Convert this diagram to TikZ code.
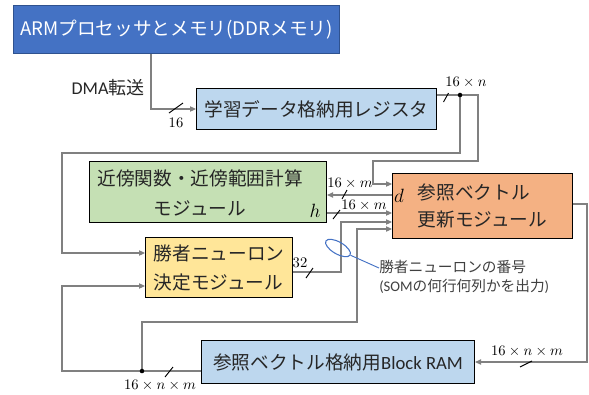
\documentclass[tikz,border=0pt]{standalone}
\usepackage{fontspec}
\setmainfont{Carlito}
\newfontfamily\jp{Noto Sans CJK JP}
\usetikzlibrary{arrows.meta,shapes.geometric}

\definecolor{armblue}{HTML}{4472C4}
\definecolor{armedge}{HTML}{2F528F}
\definecolor{lightblue}{HTML}{BDD7EE}
\definecolor{lightgreen}{HTML}{C5E0B4}
\definecolor{lightorange}{HTML}{F4B183}
\definecolor{lightyellow}{HTML}{FFE699}
\definecolor{wirecol}{HTML}{808080}
\definecolor{txt}{HTML}{262626}
\definecolor{notecol}{HTML}{404040}
\definecolor{ringblue}{HTML}{4472C4}

% bus-width tick: centre (x,y), half extents dx, dy
\newcommand{\wiretick}[4]{\draw[tickmark] (#1-#3,#2+#4) -- (#1+#3,#2-#4);}

\begin{document}
\begin{tikzpicture}[x=0.75pt,y=-0.75pt,
  blockbox/.style={draw=black, line width=0.8pt, text=txt, inner sep=0pt,
    anchor=north west, font=\jp\fontsize{14}{21}\selectfont},
  wire/.style={draw=wirecol, line width=0.8pt},
  tip/.style={-{Triangle[length=4.5pt,width=4pt]}},
  tickmark/.style={draw=black, line width=0.7pt},
  lab/.style={inner sep=0pt, font=\fontsize{10.5}{12}\selectfont},
  dot/.style={fill=black}]
\useasboundingbox (0,0) rectangle (589,394);

% blocks
\node[blockbox, fill=armblue, draw=armedge, text=white,
      minimum width=244.5pt, minimum height=36pt] (arm) at (13,5)
  {\fontsize{14}{21}\selectfont ARM{\jp プロセッサとメモリ}(DDR{\jp メモリ})};
\node[blockbox, fill=lightblue, minimum width=180pt, minimum height=30.75pt]
  (reg) at (196,88) {学習データ格納用レジスタ};
\node[blockbox, fill=lightgreen, minimum width=177.75pt, minimum height=45.75pt]
  (nbr) at (89,161) {};
\node[inner sep=0pt, align=center, text=txt, font=\jp\fontsize{14}{22.5}\selectfont]
  (nbrtext) at (200,193) {近傍関数・近傍範囲計算\\モジュール};
\node[blockbox, fill=lightorange, align=left, minimum width=135pt, minimum height=48.75pt,
      font=\jp\fontsize{14}{20.25}\selectfont]
  (upd) at (392,173) {参照ベクトル\\更新モジュール};
\node[blockbox, fill=lightyellow, align=left, minimum width=110.25pt, minimum height=45pt,
      font=\jp\fontsize{14}{21.75}\selectfont]
  (win) at (145,237) {勝者ニューロン\\決定モジュール};
\node[blockbox, fill=lightblue, minimum width=204.75pt, minimum height=32.25pt]
  (ram) at (201,340) {参照ベクトル格納用{\fontspec{Carlito}Block RAM}};

% connectors
\draw[wire,tip] (arm.south -| 151,0) |- (reg.west |- 0,109);
\coordinate (tap1) at (460,95);
\draw[wire,tip] (reg.east |- 0,95) -- (478,95) |- (373,161) |- (upd.west |- 0,184);
\draw[wire,tip] (tap1) |- (62,153) |- (win.west |- 0,253);
\draw[wire,tip] (upd.west |- 0,195) -- (nbr.east |- 0,195);
\draw[wire,tip] (nbr.east |- 0,213) -- (upd.west |- 0,213);
\draw[wire,tip] (win.east |- 0,272) -| (341,222) -- (upd.west |- 0,222);
\coordinate (tap2) at (142,371);
\draw[wire,tip] (ram.west |- 0,371) -| (62,286) -- (win.west |- 0,286);
\draw[wire,tip] (tap2) |- (357,322) |- (upd.west |- 0,229);
\draw[wire,tip] (upd.east |- 0,204) -| (587,362) -- (ram.east |- 0,362);
\fill[dot] (tap1) circle[radius=1.7pt];
\fill[dot] (tap2) circle[radius=1.7pt];

% bus widths
\wiretick{176}{108}{7}{5}
\wiretick{446}{97.5}{2.5}{4.5}
\wiretick{344.5}{194.5}{2.5}{4.5}
\wiretick{336.5}{214.5}{3.5}{4.5}
\wiretick{309.5}{273}{3.5}{5}
\wiretick{169}{372}{4}{5}
\wiretick{526}{364}{6}{3}

\node[lab] (l16) at (176,123) {\(16\)};
\node[lab] (lreg) at (466,82) {\(16\times n\)};
\node[lab] (lm1) at (350,183) {\(16\times m\)};
\node[lab] (lm2) at (364,205) {\(16\times m\)};
\node[lab] (l32) at (300,263) {\(32\)};
\node[lab] (lnm1) at (160,385) {\(16\times n\times m\)};
\node[lab] (lnm2) at (527,351) {\(16\times n\times m\)};
\node[inner sep=0pt, font=\fontsize{14.5}{16}\selectfont] (ld) at (399,196) {\(d\)};
\node[inner sep=0pt, font=\fontsize{14.5}{16}\selectfont] (lh) at (315,211) {\(h\)};
\node[inner sep=0pt, text=txt, font=\fontsize{13.5}{15}\selectfont] (ldma) at (108,88)
  {DMA{\jp 転送}};

% winner index annotation
\node[draw=ringblue, line width=0.8pt, ellipse, inner sep=0pt,
      minimum width=21pt, minimum height=9pt, rotate=-30] (ring) at (338,248) {};
\node[anchor=west, align=left, inner sep=0pt, text=notecol,
      font=\fontsize{11}{14.25}\selectfont] (note) at (379,277)
  {{\jp 勝者ニューロンの番号}\\(SOM{\jp の何行何列かを出力})};
\draw[draw=ringblue, line width=0.7pt] (ring.east) -- (note.west |- 0,268);
\end{tikzpicture}
\end{document}
